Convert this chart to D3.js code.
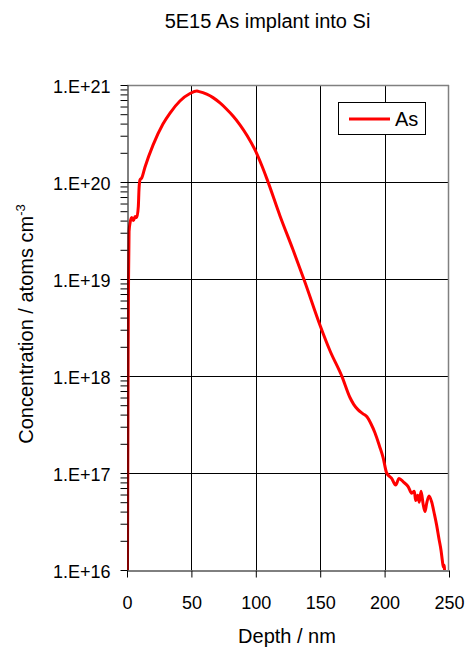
<!DOCTYPE html>
<html>
<head>
<meta charset="utf-8">
<script src="https://cdn.jsdelivr.net/npm/d3@7"></script>
<style>
  html, body { margin: 0; padding: 0; background: #fff; }
  svg { display: block; font-family: "Liberation Sans", Arial, sans-serif; }
</style>
</head>
<body>
<svg id="chart" width="469" height="647"></svg>
<script>
// ---- data ----
const title = "5E15 As implant into Si";
const seriesName = "As";
const xTicks = [0, 50, 100, 150, 200, 250];
const yTicks = [1e16, 1e17, 1e18, 1e19, 1e20, 1e21];
const yTickLabels = ["1.E+16", "1.E+17", "1.E+18", "1.E+19", "1.E+20", "1.E+21"];

const depth = [
  0.3, 0.6, 0.9, 1.2, 1.6, 2.4, 3.7, 5.0, 6.3, 7.6, 8.8, 9.3, 10.1, 11.4, 14.0,
  20.2, 27.9, 33.4, 41.1, 48.9, 54.3, 55.4, 61.9, 66.8, 72.2, 77.0, 82.3, 87.7, 93.2, 99.4,
  104.8, 108.7, 118.8, 128.9, 137.9, 150.0, 157.6, 167.0, 173.1, 176.0, 179.3, 183.0,
  186.3, 189.5, 192.5, 196.0, 198.8, 201.6, 205.5, 208.6, 211.2, 214.5, 218.4,
  221.0, 223.1, 224.1, 225.7, 226.9, 228.3, 230.0, 231.4, 232.7, 234.5, 236.6,
  238.6, 240.4, 242.2, 243.8, 244.8, 245.6, 246.4, 246.9
];
const conc = [
  5e15, 1e17, 2e18, 1e19, 3.1e19, 3.8e19, 4.3e19, 4.0e19, 4.4e19, 4.3e19, 5.6e19, 8.3e19, 1.05e20, 1.1e20, 1.43e20,
  2.4e20, 3.96e20, 5.14e20, 6.84e20, 8.17e20, 8.67e20, 8.6e20, 8.04e20, 7.41e20, 6.53e20, 5.69e20, 4.79e20, 3.89e20, 3.02e20, 2.14e20,
  1.46e20, 1.07e20, 4.47e19, 2.0e19, 9.5e18, 3.3e18, 1.82e18, 9.8e17, 6.0e17, 5.1e17, 4.5e17, 4.1e17,
  3.8e17, 3.2e17, 2.6e17, 1.9e17, 1.45e17, 1.0e17, 8.8e16, 7.5e16, 8.8e16, 8.1e16, 7.2e16,
  6.2e16, 6.5e16, 5.2e16, 5.9e16, 5.0e16, 6.5e16, 4.7e16, 4.0e16, 4.9e16, 5.8e16, 5.0e16,
  3.8e16, 2.9e16, 2.1e16, 1.6e16, 1.26e16, 1.07e16, 1.12e16, 3e15
];

// ---- layout ----
const svg = d3.select("#chart");
const L = 127, R = 449, T = 85, B = 570;
const x = d3.scaleLinear().domain([0, 250]).range([L, R]);
const y = d3.scaleLog().domain([1e16, 1e21]).range([B, T]);

svg.append("rect").attr("width", 469).attr("height", 647).attr("fill", "#fff");

// gridlines
const grid = svg.append("g");
grid.selectAll("line.v").data(xTicks.slice(1, -1)).join("line")
  .attr("x1", d => Math.round(x(d)) + 0.5).attr("x2", d => Math.round(x(d)) + 0.5)
  .attr("y1", T).attr("y2", B).attr("stroke", "#000").attr("stroke-width", 1);
grid.selectAll("line.h").data(yTicks.slice(1, -1)).join("line")
  .attr("x1", L).attr("x2", R)
  .attr("y1", d => Math.round(y(d)) + 0.5).attr("y2", d => Math.round(y(d)) + 0.5)
  .attr("stroke", "#000").attr("stroke-width", 1);

// plot frame (top and right in grey)
svg.append("line").attr("x1", L).attr("x2", R).attr("y1", T + 0.5).attr("y2", T + 0.5)
  .attr("stroke", "#808080").attr("stroke-width", 1.5);
svg.append("line").attr("x1", R - 0.5).attr("x2", R - 0.5).attr("y1", T).attr("y2", B)
  .attr("stroke", "#808080").attr("stroke-width", 1.5);

// curve
svg.append("clipPath").attr("id", "clip").append("rect")
  .attr("x", L).attr("y", T).attr("width", R - L).attr("height", B - T);
const pts = depth.map((d, i) => [d, conc[i]]);
const line = d3.line().x(d => x(d[0])).y(d => y(d[1])).curve(d3.curveMonotoneX);
svg.append("path").attr("clip-path", "url(#clip)")
  .attr("d", line(pts)).attr("fill", "none").attr("stroke", "#ff0000")
  .attr("stroke-width", 3).attr("stroke-linejoin", "round");

// y axis
const yAxis = d3.axisLeft(y).tickValues(yTicks)
  .tickFormat((d, i) => yTickLabels[i]).tickSize(7).tickSizeOuter(0);
const yg = svg.append("g").attr("transform", `translate(${L + 0.5},0)`).call(yAxis);
yg.select(".domain").attr("stroke", "#000");
yg.selectAll(".tick line").attr("stroke", "#000");
yg.selectAll("text").attr("x", -17).attr("dy", "0.4em")
  .attr("font-size", 18).attr("fill", "#000").attr("font-family", "Liberation Sans, Arial, sans-serif");

const minor = [];
for (let e = 16; e < 21; e++) for (let k = 2; k <= 9; k++) minor.push(k * Math.pow(10, e));
const ymAxis = d3.axisLeft(y).tickValues(minor).tickFormat("").tickSize(7).tickSizeOuter(0);
const ymg = svg.append("g").attr("transform", `translate(${L + 0.5},0)`).call(ymAxis);
ymg.select(".domain").remove();
ymg.selectAll(".tick line").attr("stroke", "#000");

// x axis
const xAxis = d3.axisBottom(x).tickValues(xTicks).tickSize(7).tickSizeOuter(0);
const xg = svg.append("g").attr("transform", `translate(0,${B + 0.5})`).call(xAxis);
xg.select(".domain").attr("stroke", "#000");
xg.selectAll(".tick line").attr("stroke", "#000");
xg.selectAll("text").attr("y", 38).attr("dy", null)
  .attr("font-size", 18).attr("fill", "#000").attr("font-family", "Liberation Sans, Arial, sans-serif");

// titles
svg.append("text").attr("x", 267.5).attr("y", 28).attr("text-anchor", "middle")
  .attr("font-size", 20).text(title);
svg.append("text").attr("x", 287).attr("y", 643).attr("text-anchor", "middle")
  .attr("font-size", 20).text("Depth / nm");
const yl = svg.append("text").attr("transform", "translate(33,324) rotate(-90)")
  .attr("text-anchor", "middle").attr("font-size", 20);
yl.append("tspan").text("Concentration / atoms cm");
yl.append("tspan").attr("font-size", 13).attr("dy", -8).text("-3");

// legend
const lg = svg.append("g");
lg.append("rect").attr("x", 338.5).attr("y", 102.5).attr("width", 87).attr("height", 32)
  .attr("fill", "#fff").attr("stroke", "#000").attr("stroke-width", 1);
lg.append("line").attr("x1", 349).attr("x2", 390).attr("y1", 119).attr("y2", 119)
  .attr("stroke", "#ff0000").attr("stroke-width", 3);
lg.append("text").attr("x", 395).attr("y", 126).attr("font-size", 20).text(seriesName);
</script>
</body>
</html>
